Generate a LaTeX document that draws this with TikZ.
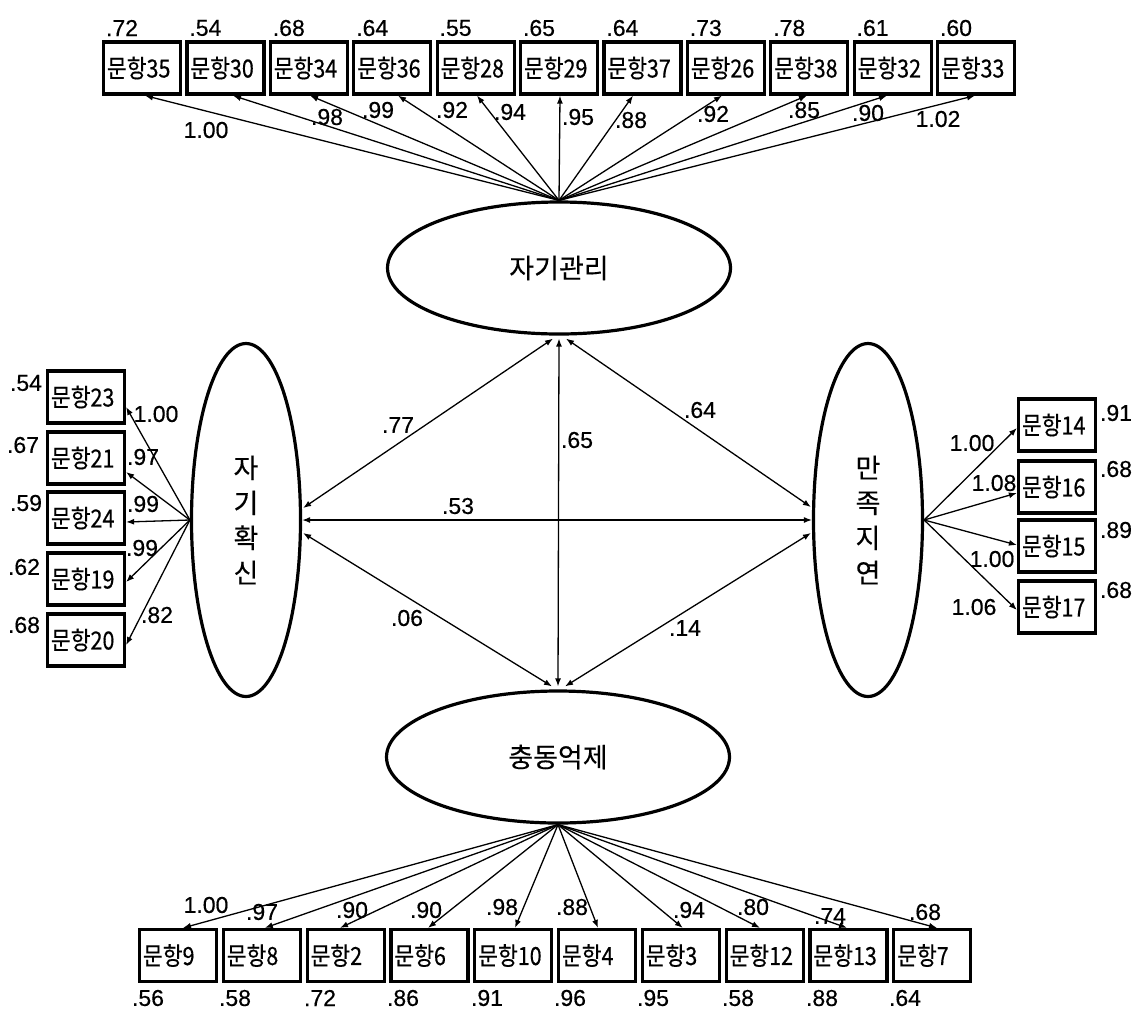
\documentclass[tikz,border=0pt]{standalone}
\usepackage{fontspec}
\setmainfont[FakeBold=0.4]{Liberation Sans}
\newfontfamily\krfont[FakeStretch=0.86,FakeBold=0.4]{Noto Sans CJK KR}
\newfontfamily\krlat[FakeBold=0.3]{Noto Sans CJK KR}
\usetikzlibrary{shapes.geometric,arrows.meta,calc}
\begin{document}
\begin{tikzpicture}[x=1pt,y=-1pt,
  box/.style={draw, line width=3.2pt, minimum width=77pt, minimum height=52pt,
    inner xsep=0pt, inner ysep=0pt, text width=70pt, align=left,
    font=\krfont\fontsize{25}{25}\selectfont},
  lat/.style={draw, ellipse, line width=3.2pt, inner sep=0pt,
    font=\krlat\fontsize{27}{27}\selectfont},
  vlat/.style={lat, align=center, font=\krlat\fontsize{27}{35}\selectfont},
  num/.style={inner sep=0pt, font=\fontsize{23}{23}\selectfont},
  ld/.style={-{Latex[length=8pt,width=6pt]}, line width=1.3pt},
  cv/.style={{Latex[length=8pt,width=6pt]}-{Latex[length=8pt,width=6pt]}, line width=1.3pt}]
\fill[white] (0,0) rectangle (1139,1010);
\useasboundingbox (0,0) rectangle (1139,1010);

% latent variables
\node[lat, minimum width=343pt, minimum height=132pt] (T) at (559,268) {자기관리};
\node[lat, minimum width=343pt, minimum height=132pt] (B) at (558,757) {충동억제};
\node[vlat, minimum width=109pt, minimum height=353pt] (L) at (246,520) {자\\기\\확\\신};
\node[vlat, minimum width=109pt, minimum height=353pt] (R) at (868,520) {만\\족\\지\\연};

% top indicators
\foreach \nm/\va/\co/\cx/\cy/\dx [count=\i] in {
  35/.72/1.00/206/130/3, 30/.54/.98/327/117/7.6, 34/.68/.99/378/110/1.2,
  36/.64/.92/452/110/5.8, 28/.55/.94/510/112/1.4, 29/.65/.95/578/117/1,
  37/.64/.88/631/120/-9.4, 26/.73/.92/713/114/-3.8, 38/.78/.85/804/110/-2.2,
  32/.61/.90/868/113/-5.6, 33/.60/1.02/938/119/-1}{
  \pgfmathsetmacro\xx{142+83.4*(\i-1)}
  \node[box] (t\i) at (\xx,68) {문항\nm};
  \node[num] (tv\i) at (\xx-20,28) {\va};
  \draw[ld] (T.north) -- ($(t\i.south)+(\dx,0)$);
  \node[num] (tc\i) at (\cx,\cy) {\co};
}

% bottom indicators
\foreach \nm/\va/\vx/\co/\cx/\cy/\dx [count=\i] in {
  9/.56/148/1.00/206/905/5, 8/.58/235/.97/262/912/3, 2/.72/320/.90/352/910/-5.6,
  6/.86/403/.90/426/910/-1.4, 10/.91/487/.98/502/907/1.8, 4/.96/570/.88/572/907/1,
  3/.95/653/.94/689/910/2, 12/.58/738/.80/753/907/-4.6, 13/.88/822/.74/830/916/-1.4,
  7/.64/905/.68/925/912/4.8}{
  \pgfmathsetmacro\xx{178+83.8*(\i-1)}
  \node[box] (b\i) at (\xx,955.5) {문항\nm};
  \node[num] (bv\i) at (\vx,998) {\va};
  \draw[ld] (B.south) -- ($(b\i.north)+(\dx,0)$);
  \node[num] (bc\i) at (\cx,\cy) {\co};
}

% left indicators
\foreach \nm/\yy/\va/\vx/\vy/\co/\cx/\cy/\dy [count=\i] in {
  23/397/.54/26/383/1.00/156/414/10, 21/458/.67/23/445/.97/143/457/14,
  24/518/.59/26/503/.99/143/504/4, 19/579/.62/24/567/.99/142/548/3,
  20/640/.68/24/625/.82/157/615/5}{
  \node[box] (l\i) at (86,\yy) {문항\nm};
  \node[num] (lv\i) at (\vx,\vy) {\va};
  \draw[ld] (L.west) -- ($(l\i.east)+(0,\dy)$);
  \node[num] (lc\i) at (\cx,\cy) {\co};
}

% right indicators
\foreach \nm/\yy/\va/\vy/\co/\cx/\cy/\dy [count=\i] in {
  14/425/.91/413/1.00/972/443/3, 16/487/.68/469/1.08/994/483/6,
  15/546/.89/530/1.00/992/559/-1, 17/607/.68/590/1.06/974/607/3}{
  \node[box] (r\i) at (1057,\yy) {문항\nm};
  \node[num] (rv\i) at (1116,\vy) {\va};
  \draw[ld] (R.east) -- ($(r\i.west)+(0,\dy)$);
  \node[num] (rc\i) at (\cx,\cy) {\co};
}

% covariances
\draw[cv] ($(L.east)+(1,-12)$) -- ($(T.south)+(-6,3)$);
\draw[cv] (L.east) -- (R.west);
\draw[cv] ($(L.east)+(1,13)$) -- ($(B.north)+(-6,-3)$);
\draw[cv] ($(T.south)+(0,3)$) -- ($(B.north)+(0,-3)$);
\draw[cv] ($(T.south)+(7,3)$) -- ($(R.west)+(-1,-13)$);
\draw[cv] ($(B.north)+(7,-3)$) -- ($(R.west)+(-1,13)$);

\node[num] (c77) at (398,425) {.77};
\node[num] (c53) at (458,506) {.53};
\node[num] (c06) at (407,618) {.06};
\node[num] (c65) at (577,440) {.65};
\node[num] (c64) at (700,410) {.64};
\node[num] (c14) at (685,628) {.14};
\end{tikzpicture}
\end{document}
